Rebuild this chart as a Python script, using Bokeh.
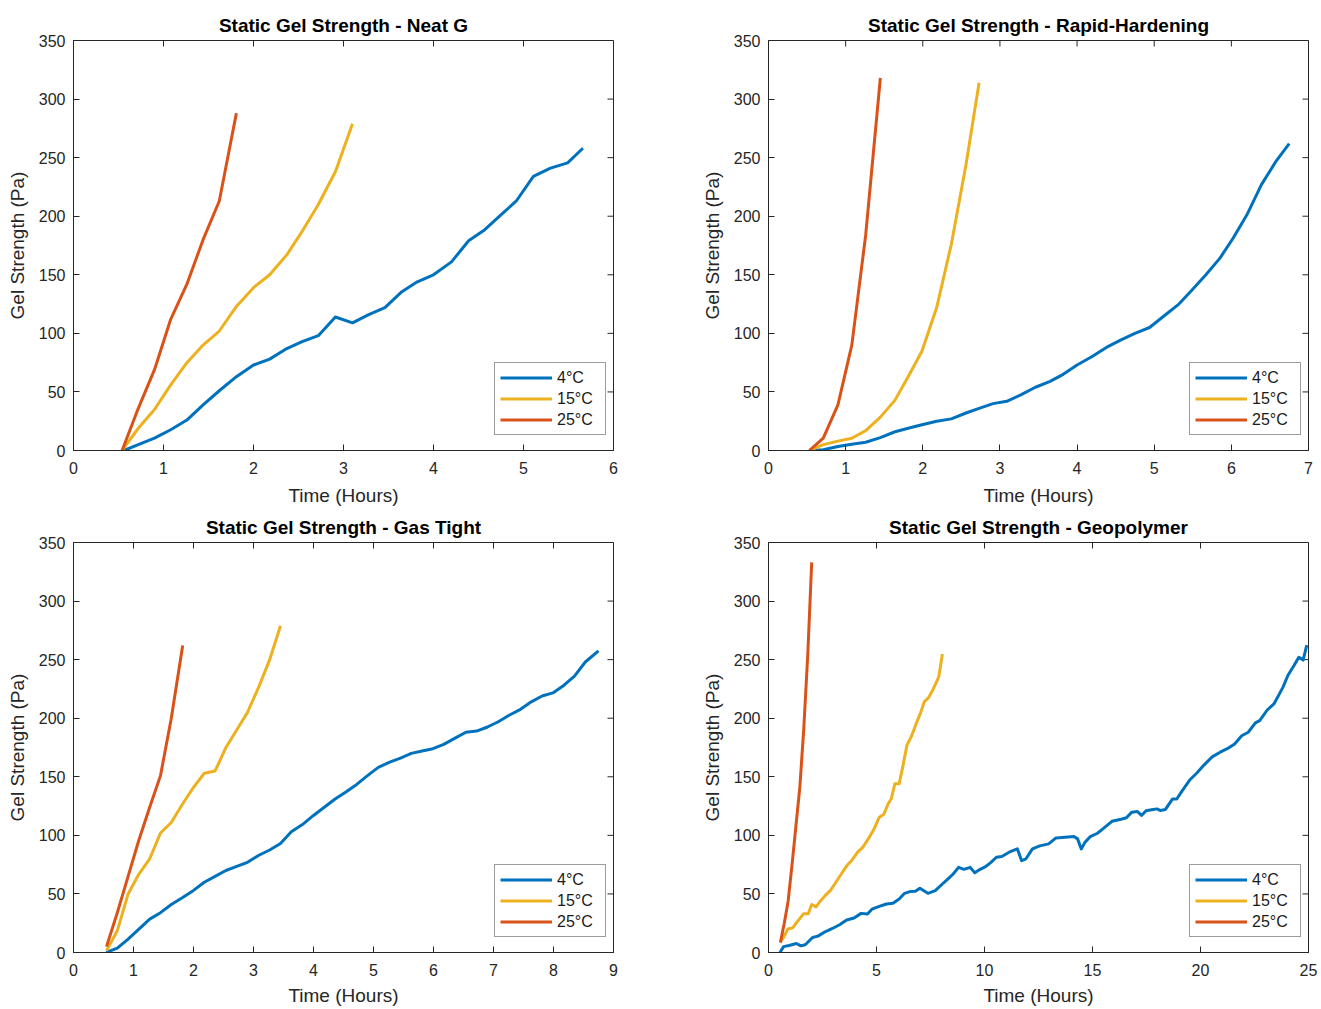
import math
from bokeh.plotting import figure
from bokeh.models import Range1d, SingleIntervalTicker, Legend, LegendItem, Title
from bokeh.layouts import column, row
from bokeh.embed import file_html
from bokeh.resources import INLINE

# ---------------- data ----------------
series_labels = ["4°C", "15°C", "25°C"]
y_ticks = [0, 50, 100, 150, 200, 250, 300, 350]

neat_x_ticks = [0, 1, 2, 3, 4, 5, 6]
rapid_x_ticks = [0, 1, 2, 3, 4, 5, 6, 7]
gas_x_ticks = [0, 1, 2, 3, 4, 5, 6, 7, 8, 9]
geo_x_ticks = [0, 5, 10, 15, 20, 25]

# Neat G
neat_t4 = [0.56, 0.72, 0.90, 1.08, 1.26, 1.44, 1.62, 1.81, 2.0, 2.18, 2.37, 2.54, 2.72, 2.91, 3.1,
           3.28, 3.46, 3.64, 3.82, 4.0, 4.2, 4.39, 4.57, 4.74, 4.92, 5.11, 5.3, 5.49, 5.66]
neat_g4 = [0, 5, 10.5, 17.7, 26, 39, 51, 63, 73, 78, 87, 93, 98, 114, 109,
           116, 122, 135, 144, 150, 161, 179, 188.5, 200.5, 213, 234, 241, 245.5, 258]
neat_t15 = [0.54, 0.72, 0.90, 1.08, 1.26, 1.44, 1.62, 1.81, 2.0, 2.18, 2.37, 2.54, 2.72, 2.91, 3.1]
neat_g15 = [0, 19, 35, 56, 75, 90, 102, 123, 139, 150, 167, 187, 210, 238, 279]
neat_t25 = [0.54, 0.72, 0.90, 1.08, 1.26, 1.44, 1.62, 1.81]
neat_g25 = [0, 36, 69, 112, 142, 180, 213, 288]

# Rapid-Hardening
rapid_t4 = [0.55, 0.71, 0.9, 1.08, 1.26, 1.45, 1.64, 1.81, 1.99, 2.18, 2.37, 2.56, 2.73, 2.91, 3.09,
            3.27, 3.46, 3.65, 3.82, 4.0, 4.19, 4.38, 4.57, 4.75, 4.94, 5.13, 5.32, 5.49, 5.67, 5.85,
            6.02, 6.2, 6.39, 6.58, 6.75]
rapid_g4 = [0, 0.6, 3.4, 5.4, 7, 11, 16, 19, 22, 25, 27, 32, 36, 40, 42,
            47.5, 54, 59, 65, 73, 80, 88, 94.5, 100, 105, 115, 125, 137, 150, 164,
            181, 201, 227, 247, 262]
rapid_t15 = [0.53, 0.71, 0.9, 1.08, 1.26, 1.45, 1.64, 1.81, 1.99, 2.18, 2.37, 2.56, 2.73]
rapid_g15 = [0, 5, 8, 10.5, 17, 28.5, 43, 63, 85, 122, 176, 244, 314]
rapid_t25 = [0.53, 0.71, 0.90, 1.08, 1.26, 1.45]
rapid_g25 = [0, 10.5, 39, 90, 184, 318]

# Gas Tight
gas_t4 = [0.545, 0.73, 0.91, 1.09, 1.27, 1.45, 1.63, 1.82, 2.0, 2.18, 2.36, 2.54, 2.72, 2.9, 3.09,
          3.27, 3.45, 3.63, 3.81, 4.0, 4.18, 4.36, 4.54, 4.72, 4.9, 5.08, 5.27, 5.45, 5.63, 5.81,
          5.99, 6.17, 6.36, 6.54, 6.72, 6.9, 7.08, 7.26, 7.45, 7.63, 7.81, 7.99, 8.17, 8.35, 8.53, 8.75]
gas_g4 = [0, 3.7, 11.4, 20, 28.5, 34, 41, 47, 53, 60, 65, 70, 73.6, 77, 83,
          87.5, 93, 103, 109, 117, 124, 131, 137, 143.5, 151, 158, 162.5, 166, 170, 172,
          174, 177.7, 183, 188, 189, 192.5, 197, 202.5, 207.6, 214, 219, 221.6, 228, 236, 248, 257.5]
gas_t15 = [0.55, 0.73, 0.91, 1.09, 1.27, 1.45, 1.63, 1.82, 2.0, 2.18, 2.36, 2.54, 2.72, 2.9, 3.09, 3.27, 3.45]
gas_g15 = [1.5, 18.5, 50, 67, 80, 102, 111, 127, 141, 153, 155, 175, 190, 205, 227, 250, 279]
gas_t25 = [0.55, 0.73, 0.91, 1.09, 1.27, 1.45, 1.63, 1.82]
gas_g25 = [5, 34, 65, 96, 124, 151, 200, 262]

# Geopolymer
geo_t4 = [0.53, 0.7, 0.95, 1.29, 1.5, 1.7, 2.04, 2.29, 2.62, 2.96, 3.29, 3.62, 3.96, 4.29, 4.58,
          4.79, 5.13, 5.46, 5.76, 6.05, 6.3, 6.55, 6.8, 7.01, 7.38, 7.72, 8.05, 8.3, 8.55, 8.8,
          9.05, 9.34, 9.55, 9.8, 10.05, 10.3, 10.55, 10.8, 11.14, 11.52, 11.72, 11.92, 12.22, 12.56,
          12.97, 13.31, 13.73, 14.14, 14.31, 14.48, 14.65, 14.9, 15.23, 15.48, 15.9, 16.32, 16.57,
          16.82, 17.07, 17.27, 17.48, 17.74, 17.99, 18.15, 18.37, 18.7, 18.9, 19.15, 19.49, 19.82,
          20.16, 20.54, 20.91, 21.24, 21.58, 21.91, 22.21, 22.54, 22.74, 23.08, 23.41, 23.66, 23.83,
          24.05, 24.33, 24.55, 24.75, 24.92]
geo_g4 = [0, 5, 6, 7.7, 5.7, 6.6, 12.8, 14, 17.7, 20.5, 23.7, 27.7, 29.4, 33.4, 32.8,
          37, 39.4, 41.4, 42, 45.6, 50.5, 52, 52.2, 54.8, 50.5, 52.8, 58.5, 62.7, 67, 72.7,
          71, 72.7, 68, 71, 73.3, 77, 81.3, 82, 85.6, 88.5, 78.4, 80, 88.5, 91,
          92.7, 97.8, 98.4, 99, 97, 88.4, 94, 99, 101.8, 105.5, 112, 113.8, 115,
          119.8, 120.4, 117, 121, 121.8, 122.6, 121.2, 122, 131, 131, 138, 147, 153,
          160, 167, 171, 174, 178, 185, 188, 196, 198, 206.8, 212.5, 221, 227,
          236.7, 245, 252, 249.6, 262.4]
geo_t15 = [0.53, 0.7, 0.9, 1.12, 1.34, 1.62, 1.84, 2.0, 2.2, 2.4, 2.62, 2.87, 3.12, 3.37, 3.62,
           3.87, 4.12, 4.37, 4.62, 4.87, 5.13, 5.34, 5.54, 5.68, 5.85, 6.05, 6.21, 6.41, 6.63,
           6.85, 7.05, 7.21, 7.41, 7.63, 7.88, 8.05]
geo_g15 = [8.5, 13, 20, 21, 26.5, 33, 33, 41, 39, 44, 48.5, 53, 60, 67, 74,
           79, 85.5, 90, 97, 104.7, 115.5, 118, 127, 131, 144, 144, 158, 177, 185,
           196, 205, 214, 217.6, 225, 235, 254.7]
geo_t25 = [0.55, 0.73, 0.91, 1.09, 1.27, 1.45, 1.63, 1.82, 2.0]
geo_g25 = [8.5, 25, 44, 75, 108, 141, 190, 255, 333]

# ---------------- styling ----------------
FONT = "Liberation Sans"
COLORS = ["#0072BD", "#EDB120", "#D95319"]
AX = "#262626"


def style_axis(ax, ticker):
    ax.ticker = ticker
    ax.major_tick_in = 6
    ax.major_tick_out = 0
    ax.minor_tick_line_color = None
    ax.axis_line_color = AX
    ax.major_tick_line_color = AX
    ax.major_label_text_font = FONT
    ax.major_label_text_font_size = "16px"
    ax.major_label_text_color = AX
    ax.axis_label_text_font = FONT
    ax.axis_label_text_font_size = "19px"
    ax.axis_label_text_font_style = "normal"
    ax.axis_label_text_color = AX


def make_panel(title, x_ticks, series, mb_left, mb_right, mb_top, mb_bottom, bottom_row=False):
    xmax = x_ticks[-1]
    ymax = y_ticks[-1]
    p = figure(frame_width=540, frame_height=410,
               x_range=Range1d(0, xmax), y_range=Range1d(0, ymax),
               output_backend="svg", toolbar_location=None, title=None,
               min_border_left=mb_left, min_border_right=mb_right,
               min_border_top=mb_top, min_border_bottom=mb_bottom,
               background_fill_color="white", border_fill_color="white")
    p.xgrid.visible = False
    p.ygrid.visible = False
    p.outline_line_color = AX
    p.outline_line_width = 1

    xa = p.xaxis[0]
    ya = p.yaxis[0]
    style_axis(xa, SingleIntervalTicker(interval=x_ticks[1] - x_ticks[0], num_minor_ticks=0))
    style_axis(ya, SingleIntervalTicker(interval=y_ticks[1] - y_ticks[0], num_minor_ticks=0))
    xa.axis_label = "Time (Hours)"
    ya.axis_label = "Gel Strength (Pa)"
    xa.major_label_standoff = 11
    xa.axis_label_standoff = 6 if bottom_row else 8
    ya.major_label_standoff = 8
    ya.axis_label_standoff = 8

    # inward ticks on the top and right edges of the box (MATLAB "box on")
    p.ray(x=x_ticks, y=[ymax] * len(x_ticks), length=6, length_units="screen",
          angle=-math.pi / 2, line_color=AX, line_width=1)
    p.ray(x=[xmax] * len(y_ticks), y=y_ticks, length=6, length_units="screen",
          angle=math.pi, line_color=AX, line_width=1)

    p.add_layout(Title(text=title, align="center", text_font=FONT, text_font_size="19px",
                       text_font_style="bold", text_color="#000000", standoff=9), "above")

    items = []
    for (t, g), color, lab in zip(series, COLORS, series_labels):
        r = p.line(t, g, line_color=color, line_width=3, line_join="round")
        items.append(LegendItem(label=lab, renderers=[r]))

    legend = Legend(items=items, location=(421, 15), margin=0, padding=5,
                    spacing=2, glyph_width=52, glyph_height=19, label_height=19,
                    label_width=43, label_standoff=5,
                    label_text_font=FONT, label_text_font_size="16px",
                    label_text_color="#1a1a1a",
                    border_line_color="#3a3a3a", border_line_width=1,
                    background_fill_color="white", background_fill_alpha=1.0)
    p.add_layout(legend)
    return p


p1 = make_panel("Static Gel Strength - Neat G", neat_x_ticks,
                [(neat_t4, neat_g4), (neat_t15, neat_g15), (neat_t25, neat_g25)],
                73, 45, 40, 60)
p2 = make_panel("Static Gel Strength - Rapid-Hardening", rapid_x_ticks,
                [(rapid_t4, rapid_g4), (rapid_t15, rapid_g15), (rapid_t25, rapid_g25)],
                110, 11, 40, 60)
p3 = make_panel("Static Gel Strength - Gas Tight", gas_x_ticks,
                [(gas_t4, gas_g4), (gas_t15, gas_g15), (gas_t25, gas_g25)],
                73, 45, 32, 56, bottom_row=True)
p4 = make_panel("Static Gel Strength - Geopolymer", geo_x_ticks,
                [(geo_t4, geo_g4), (geo_t15, geo_g15), (geo_t25, geo_g25)],
                110, 11, 32, 56, bottom_row=True)

layout = column(row(p1, p2), row(p3, p4))
open("out.html", "w").write(file_html(layout, INLINE))
